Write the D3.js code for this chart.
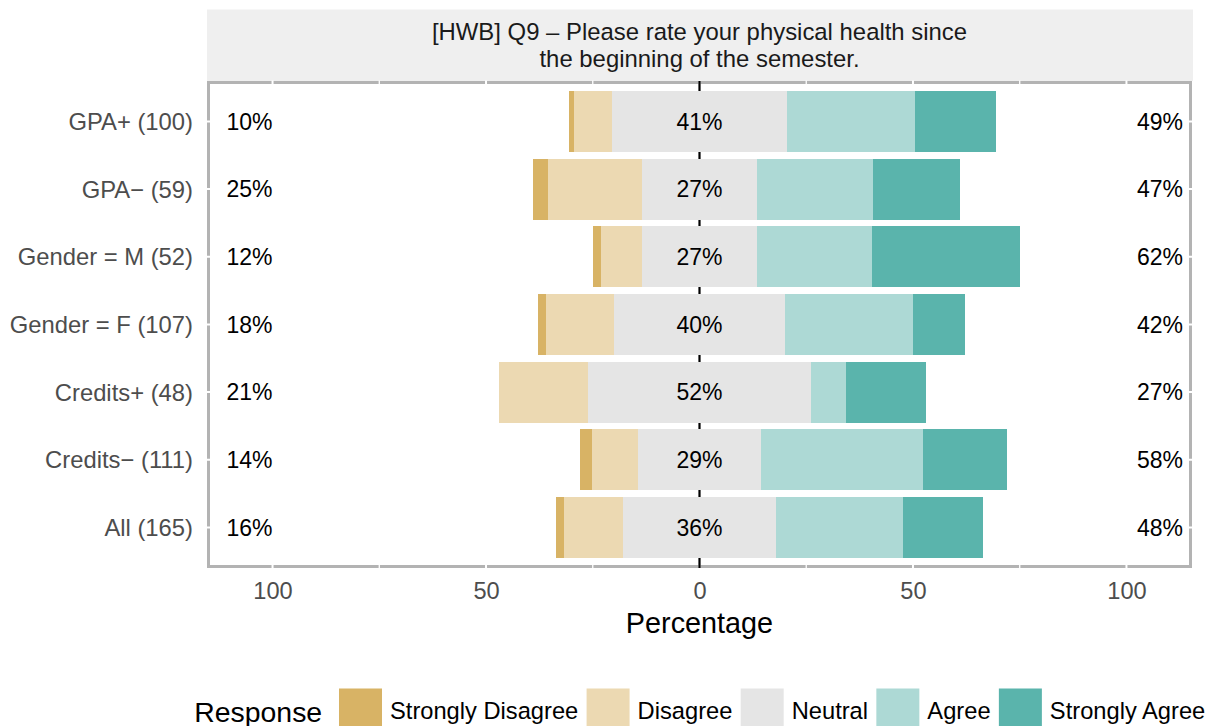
<!DOCTYPE html>
<html>
<head>
<meta charset="utf-8">
<script src="https://cdn.jsdelivr.net/npm/d3@7"></script>
<style>
  html, body { margin: 0; padding: 0; background: #ffffff; }
  svg { display: block; font-family: "Liberation Sans", Arial, Helvetica, sans-serif; }
</style>
</head>
<body>
<svg id="chart" width="1218" height="726"></svg>
<script>
// ---- data ----
const categories = ["GPA+ (100)", "GPA\u2212 (59)", "Gender = M (52)", "Gender = F (107)", "Credits+ (48)", "Credits\u2212 (111)", "All (165)"];
const responses = ["Strongly Disagree", "Disagree", "Neutral", "Agree", "Strongly Agree"];
const stronglyDisagree = [1.00, 3.39, 1.92, 1.87, 0.00, 2.70, 1.82];
const disagree         = [9.00, 22.03, 9.62, 15.89, 20.83, 10.81, 13.94];
const neutral          = [41.00, 27.12, 26.92, 40.19, 52.08, 28.83, 35.76];
const agree            = [30.00, 27.12, 26.92, 29.91, 8.33, 37.84, 29.70];
const stronglyAgree    = [19.00, 20.34, 34.62, 12.15, 18.75, 19.82, 18.79];
const tickValues = [-100, -50, 0, 50, 100];
const minorTickValues = [-125, -75, -25, 25, 75, 125];
const stripTitle = ["[HWB] Q9 \u2013 Please rate your physical health since", "the beginning of the semester."];
const xTitle = "Percentage";
const legendTitle = "Response";
const colors = ["#D8B365", "#ECD9B2", "#E5E5E5", "#ADD9D5", "#5AB4AC"];

// ---- layout ----
const svg = d3.select("#chart");
const P = { left: 208.5, right: 1190.5, top: 82.5, bottom: 566.5 };

const x = d3.scaleLinear().domain([-115, 115]).range([P.left, P.right]);
const y = d3.scaleBand().domain(categories).range([80.8, 568]).paddingInner(0.1).paddingOuter(0.15);

// strip
svg.append("rect").attr("x", 207).attr("y", 9.5).attr("width", 1193 - 207).attr("height", 81 - 9.5).attr("fill", "#EFEFEF");
const st = svg.append("g").attr("text-anchor", "middle").attr("font-size", 23.9).attr("fill", "#1A1A1A");
stripTitle.forEach((line, i) => {
  st.append("text").attr("x", (P.left + P.right) / 2).attr("y", 40.0 + i * 26.6).text(line);
});

// panel background with border
svg.append("rect").attr("x", P.left).attr("y", P.top).attr("width", P.right - P.left).attr("height", P.bottom - P.top)
  .attr("fill", "#ffffff").attr("stroke", "#B3B3B3").attr("stroke-width", 3);

// white gridlines (cut the border)
const grid = svg.append("g");
grid.selectAll("line.minor").data(minorTickValues.filter(v => x(v) > P.left && x(v) < P.right)).join("line")
  .attr("x1", d => x(d)).attr("x2", d => x(d)).attr("y1", P.top - 2).attr("y2", P.bottom + 2)
  .attr("stroke", "#ffffff").attr("stroke-width", 1.3);
grid.selectAll("line.major").data(tickValues).join("line")
  .attr("x1", d => x(d)).attr("x2", d => x(d)).attr("y1", P.top - 2).attr("y2", P.bottom + 2)
  .attr("stroke", "#ffffff").attr("stroke-width", 2);
grid.selectAll("line.h").data(categories).join("line")
  .attr("x1", P.left - 2).attr("x2", P.right + 2)
  .attr("y1", d => y(d) + y.bandwidth() / 2).attr("y2", d => y(d) + y.bandwidth() / 2)
  .attr("stroke", "#ffffff").attr("stroke-width", 2);

// zero line
svg.append("line").attr("x1", x(0)).attr("x2", x(0)).attr("y1", P.top - 1.5).attr("y2", P.bottom + 1.5)
  .attr("stroke", "#000000").attr("stroke-width", 2.2);

// segments
const segs = [];
categories.forEach((c, i) => {
  const sd = stronglyDisagree[i], d = disagree[i], n = neutral[i], a = agree[i], sa = stronglyAgree[i];
  segs.push({ c, k: 2, x0: -n / 2, x1: 0 });
  segs.push({ c, k: 1, x0: -n / 2 - d, x1: -n / 2 });
  segs.push({ c, k: 0, x0: -n / 2 - d - sd, x1: -n / 2 - d });
  segs.push({ c, k: 2, x0: 0, x1: n / 2 });
  segs.push({ c, k: 3, x0: n / 2, x1: n / 2 + a });
  segs.push({ c, k: 4, x0: n / 2 + a, x1: n / 2 + a + sa });
});
svg.append("g").selectAll("rect").data(segs.filter(s => s.x1 - s.x0 > 0)).join("rect")
  .attr("x", s => x(s.x0)).attr("width", s => x(s.x1) - x(s.x0))
  .attr("y", s => y(s.c)).attr("height", y.bandwidth())
  .attr("fill", s => colors[s.k]).attr("shape-rendering", "crispEdges");

// percentage labels
const lab = svg.append("g").attr("font-size", 23).attr("fill", "#000000");
categories.forEach((c, i) => {
  const cy = y(c) + y.bandwidth() / 2 + 8.2;
  const low = Math.round(stronglyDisagree[i] + disagree[i]);
  const mid = Math.round(neutral[i]);
  const high = Math.round(agree[i] + stronglyAgree[i]);
  lab.append("text").attr("x", 226.5).attr("y", cy).attr("text-anchor", "start").text(low + "%");
  lab.append("text").attr("x", x(0)).attr("y", cy).attr("text-anchor", "middle").text(mid + "%");
  lab.append("text").attr("x", 1183).attr("y", cy).attr("text-anchor", "end").text(high + "%");
});

// y axis (category labels)
const yAxis = svg.append("g").attr("transform", `translate(${P.left},0)`)
  .call(d3.axisLeft(y).tickSize(0).tickPadding(15.5));
yAxis.select(".domain").remove();
yAxis.selectAll("text").attr("font-size", 23.8).attr("fill", "#4D4D4D")
  .attr("font-family", "'Liberation Sans', Arial, sans-serif").attr("dy", "0.355em");

// x axis
const xAxis = svg.append("g").attr("transform", `translate(0,${P.bottom})`)
  .call(d3.axisBottom(x).tickValues(tickValues).tickFormat(d => Math.abs(d)).tickSize(0).tickPadding(0));
xAxis.select(".domain").remove();
xAxis.selectAll("text").attr("font-size", 23.6).attr("fill", "#4D4D4D")
  .attr("font-family", "'Liberation Sans', Arial, sans-serif").attr("dy", null).attr("y", 599.3 - P.bottom);

// x title
svg.append("text").attr("x", x(0)).attr("y", 633.3).attr("text-anchor", "middle")
  .attr("font-size", 28.8).attr("fill", "#000000").text(xTitle);

// legend
const leg = svg.append("g");
leg.append("text").attr("x", 194.3).attr("y", 721.5).attr("font-size", 28.4).attr("fill", "#000000").text(legendTitle);
let lx = 339;
responses.forEach((r, i) => {
  leg.append("rect").attr("x", lx).attr("y", 688.5).attr("width", 43).attr("height", 43).attr("fill", colors[i]);
  const t = leg.append("text").attr("x", lx + 43 + 8).attr("y", 718.6).attr("font-size", 23.7).attr("fill", "#000000").text(r);
  lx = lx + 43 + 8 + t.node().getComputedTextLength() + 8.3;
});
</script>
</body>
</html>
